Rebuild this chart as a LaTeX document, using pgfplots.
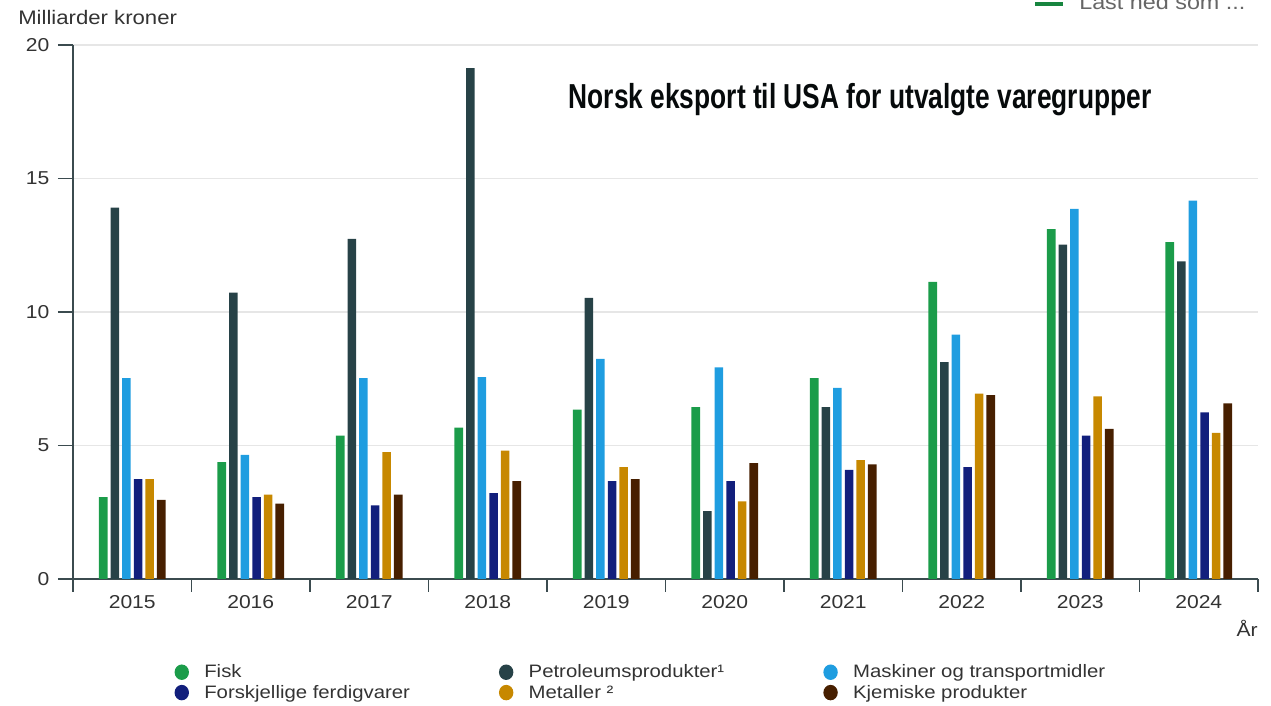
\documentclass[border=0pt]{standalone}
\usepackage{pgfplots}
\pgfplotsset{compat=1.18}
\usepackage{pgfplotstable}
\usepackage{fontspec}
\setmainfont{Liberation Sans}[FakeStretch=1.13]
\newfontfamily\titlefont{Liberation Sans}[FakeStretch=0.76]
\definecolor{cFisk}{HTML}{1B9C4A}
\definecolor{cPetr}{HTML}{274247}
\definecolor{cMask}{HTML}{1F9DE0}
\definecolor{cForsk}{HTML}{121F7C}
\definecolor{cMet}{HTML}{C78800}
\definecolor{cKjem}{HTML}{471F00}
\definecolor{axiscol}{HTML}{3B4B4F}
\definecolor{txtcol}{HTML}{333333}
\definecolor{gridcol}{HTML}{E6E6E6}
\pgfplotstableread{
x Fisk Petr Mask Forsk Met Kjem
0 3.07 13.91 7.52 3.74 3.74 2.96
1 4.38 10.73 4.65 3.07 3.16 2.82
2 5.37 12.74 7.52 2.76 4.75 3.16
3 5.67 19.13 7.56 3.22 4.81 3.67
4 6.34 10.53 8.24 3.67 4.19 3.74
5 6.44 2.54 7.93 3.67 2.91 4.34
6 7.52 6.44 7.16 4.09 4.45 4.29
7 11.13 8.12 9.15 4.19 6.94 6.89
8 13.10 12.52 13.86 5.37 6.84 5.62
9 12.62 11.90 14.17 6.24 5.47 6.58
}\datatable
\begin{document}
\begin{tikzpicture}
\useasboundingbox (-54.75pt,-95.25pt) rectangle (898.5pt,434.25pt);
\begin{axis}[
  at={(0pt,0pt)}, anchor=south west,
  scale only axis, width=888.75pt, height=400.5pt,
  xmin=-0.5, xmax=9.5, ymin=0, ymax=20,
  ybar=2.3pt, bar width=6.4pt,
  axis lines=left, axis line style={-, draw=axiscol, line width=1.1pt},
  xtick={0,...,9},
  xticklabels={2015,2016,2017,2018,2019,2020,2021,2022,2023,2024},
  minor xtick={-0.5,0.5,...,9.5},
  tick align=outside,
  major x tick style={draw=none},
  minor x tick style={draw=axiscol, line width=1.1pt},
  minor tick length=9.75pt,
  ytick={0,5,10,15,20},
  major y tick style={draw=axiscol, line width=1.1pt},
  major tick length=11.25pt,
  ymajorgrids, grid style={draw=gridcol, line width=0.9pt},
  tick label style={font=\fontsize{14}{16}\selectfont, text=txtcol},
  xticklabel style={yshift=2.25pt},
  yticklabel style={xshift=-3pt},
  /pgf/number format/assume math mode=true,
  legend columns=3,
  legend style={draw=none, fill=none, at={(0.0855,-0.155)}, anchor=north west,
    font=\fontsize{13.5}{15}\selectfont, text=txtcol,
    /tikz/every odd column/.style={column sep=9.5pt},
    row sep=0pt, inner sep=0pt},
  legend image code/.code={\fill[#1] (5.4pt,0pt) ellipse (5.4pt and 5.8pt);},
  legend cell align=left,
]
\addplot[fill=cFisk, draw=none] table[x=x, y=Fisk] {\datatable};
\addlegendentry{\makebox[219pt][l]{Fisk}}
\addplot[fill=cPetr, draw=none] table[x=x, y=Petr] {\datatable};
\addlegendentry{\makebox[219pt][l]{Petroleumsprodukter¹}}
\addplot[fill=cMask, draw=none] table[x=x, y=Mask] {\datatable};
\addlegendentry{\makebox[219pt][l]{Maskiner og transportmidler}}
\addplot[fill=cForsk, draw=none] table[x=x, y=Forsk] {\datatable};
\addlegendentry{\makebox[219pt][l]{Forskjellige ferdigvarer}}
\addplot[fill=cMet, draw=none] table[x=x, y=Met] {\datatable};
\addlegendentry{\makebox[219pt][l]{Metaller ²}}
\addplot[fill=cKjem, draw=none] table[x=x, y=Kjem] {\datatable};
\addlegendentry{\makebox[219pt][l]{Kjemiske produkter}}
\end{axis}
\node[anchor=west, text=txtcol, font=\fontsize{14.7}{16}\selectfont, inner sep=0pt] at (-41.25pt,420.75pt) {Milliarder kroner};
\node[anchor=east, text=txtcol, font=\fontsize{14}{16}\selectfont, inner sep=0pt] at (888.75pt,-36.75pt) {År};
\node[text=black!85!cPetr, font=\titlefont\bfseries\fontsize{26}{30}\selectfont, inner sep=0pt] at (590.25pt,359.25pt) {Norsk eksport til USA for utvalgte varegrupper};
\draw[draw=cFisk!85!black, line width=3.5pt, overlay] (721.5pt,431.25pt) -- (742.5pt,431.25pt);
\node[overlay, anchor=base west, text=black!60, font=\fontsize{15.5}{17}\selectfont, inner sep=0pt] at (754.5pt,426.75pt) {Last ned som ...};
\end{tikzpicture}
\end{document}
